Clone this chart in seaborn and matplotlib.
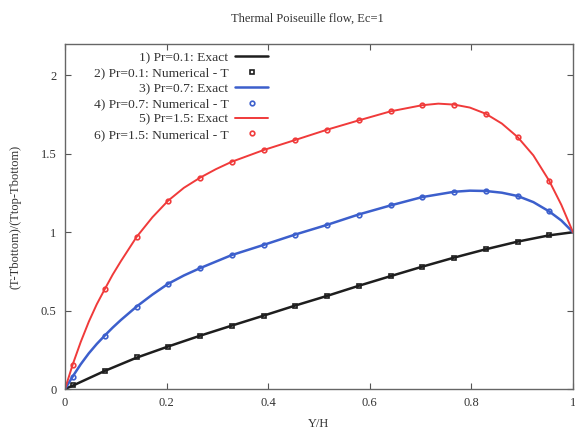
import matplotlib
matplotlib.use("Agg")
import matplotlib.pyplot as plt
import seaborn as sns

# ---- data ----
# numerical solution points
y_num = [0.0156, 0.078, 0.141, 0.203, 0.266, 0.328, 0.391, 0.453,
         0.516, 0.578, 0.641, 0.703, 0.766, 0.828, 0.891, 0.953]
t_pr01 = [0.026, 0.117, 0.201, 0.271, 0.340, 0.404, 0.468, 0.532,
          0.592, 0.660, 0.720, 0.780, 0.838, 0.891, 0.938, 0.983]
t_pr07 = [0.079, 0.340, 0.526, 0.671, 0.771, 0.854, 0.919, 0.985,
          1.047, 1.113, 1.171, 1.224, 1.258, 1.263, 1.231, 1.133]
t_pr15 = [0.154, 0.635, 0.970, 1.201, 1.348, 1.449, 1.524, 1.588,
          1.654, 1.713, 1.771, 1.810, 1.814, 1.756, 1.607, 1.329]

# exact curves
y_ex01 = [0.0, 0.0156, 0.078, 0.141, 0.203, 0.266, 0.328, 0.391, 0.453,
          0.516, 0.578, 0.641, 0.703, 0.766, 0.828, 0.891, 0.953, 1.0]
e_pr01 = [0.0, 0.022, 0.115, 0.200, 0.271, 0.340, 0.404, 0.468, 0.532,
          0.594, 0.658, 0.720, 0.780, 0.838, 0.891, 0.940, 0.980, 1.0]
y_ex07 = [0.0, 0.0156, 0.031, 0.047, 0.0625, 0.078, 0.094, 0.11, 0.141, 0.172,
          0.203, 0.234, 0.266, 0.328, 0.391, 0.453, 0.516, 0.578, 0.641, 0.703,
          0.766, 0.797, 0.828, 0.86, 0.891, 0.922, 0.953, 0.977, 1.0]
e_pr07 = [0.0, 0.082, 0.158, 0.228, 0.287, 0.340, 0.392, 0.440, 0.526, 0.602,
          0.671, 0.724, 0.771, 0.854, 0.919, 0.985, 1.047, 1.113, 1.171, 1.224,
          1.258, 1.265, 1.263, 1.252, 1.231, 1.192, 1.133, 1.075, 1.0]
y_ex15 = [0.0, 0.0156, 0.031, 0.047, 0.0625, 0.078, 0.094, 0.11, 0.141, 0.172,
          0.203, 0.234, 0.266, 0.297, 0.328, 0.391, 0.453, 0.516, 0.578, 0.641,
          0.703, 0.735, 0.766, 0.797, 0.828, 0.86, 0.891, 0.922, 0.953, 0.977, 1.0]
e_pr15 = [0.0, 0.160, 0.300, 0.430, 0.540, 0.635, 0.730, 0.815, 0.970, 1.095,
          1.201, 1.283, 1.348, 1.402, 1.449, 1.524, 1.588, 1.654, 1.713, 1.771,
          1.810, 1.820, 1.814, 1.795, 1.756, 1.693, 1.607, 1.490, 1.329, 1.175, 1.0]

labels_exact = ["1) Pr=0.1: Exact", "3) Pr=0.7: Exact", "5) Pr=1.5: Exact"]
labels_num = ["2) Pr=0.1: Numerical - T", "4) Pr=0.7: Numerical - T",
              "6) Pr=1.5: Numerical - T"]
x_ticks = [0, 0.2, 0.4, 0.6, 0.8, 1]
y_ticks = [0, 0.5, 1, 1.5, 2]
tick_labels_x = ["0", "0.2", "0.4", "0.6", "0.8", "1"]
tick_labels_y = ["0", "0.5", "1", "1.5", "2"]

sns.set_style("ticks")
plt.rcParams["font.family"] = ["Liberation Serif", "DejaVu Serif"]

fig = plt.figure(figsize=(5.75, 4.32), dpi=100)
ax = fig.add_axes([0.113, 0.0995, 0.8835, 0.7985])

colors = ["#1e1e1e", "#3c5fcc", "#f03a3a"]
markers = ["s", "o", "o"]
lws = [1.8, 1.8, 1.4]
ex_x = [y_ex01, y_ex07, y_ex15]
ex_y = [e_pr01, e_pr07, e_pr15]
nums = [t_pr01, t_pr07, t_pr15]

handles = []
for i in range(3):
    sns.lineplot(x=ex_x[i], y=ex_y[i], ax=ax, color=colors[i], lw=lws[i],
                 estimator=None, sort=False, label=labels_exact[i], legend=False)
    handles.append(ax.lines[-1])
    sns.lineplot(x=y_num, y=nums[i], ax=ax, color=colors[i], estimator=None,
                 sort=False, linestyle="none", marker=markers[i], markersize=3.3,
                 markerfacecolor="none", markeredgecolor=colors[i],
                 markeredgewidth=1.2, label=labels_num[i], legend=False)
    handles.append(ax.lines[-1])

ax.set_xlim(0, 1)
ax.set_ylim(0, 2.2)
ax.set_xticks(x_ticks)
ax.set_xticklabels(tick_labels_x)
ax.set_yticks(y_ticks)
ax.set_yticklabels(tick_labels_y)
ax.tick_params(direction="in", top=True, right=True, length=4, width=0.8,
               labelsize=9, colors="#555555", labelcolor="#333333", pad=6)
for s in ax.spines.values():
    s.set_color("#666666")
    s.set_linewidth(1.0)
    s.set_visible(True)

ax.set_xlabel("Y/H", fontsize=9, color="#333333", labelpad=6)
ax.set_ylabel("(T-Tbottom)/(Ttop-Tbottom)", fontsize=9, color="#333333", labelpad=14)
ax.set_title("Thermal Poiseuille flow, Ec=1", fontsize=9, color="#333333",
             pad=16, x=0.478)

leg = ax.legend(handles=handles, labels=[h.get_label() for h in handles],
                loc="upper right", bbox_to_anchor=(0.40, 0.978), markerfirst=False,
                frameon=False, fontsize=9.7, handlelength=2.45, handletextpad=0.5,
                labelspacing=0.22, borderaxespad=0.0, borderpad=0.0)
for t in leg.get_texts():
    t.set_color("#333333")

fig.savefig("out.png", dpi=100)
